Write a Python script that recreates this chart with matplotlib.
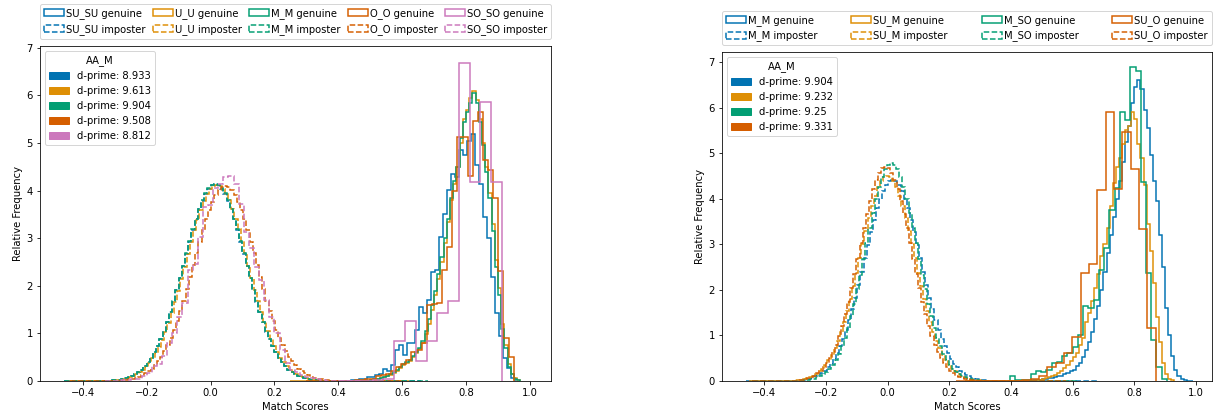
import matplotlib
matplotlib.use("Agg")
import matplotlib.pyplot as plt
import matplotlib.patches as mpatches
import numpy as np

colors = ['#0173b2', '#de8f05', '#029e73', '#d55e00', '#cc78bc']

# ---------------- left panel ----------------
left_names = ['SU_SU', 'U_U', 'M_M', 'O_O', 'SO_SO']
left_dprime = ['8.933', '9.613', '9.904', '9.508', '8.812']

# genuine histograms (density)
su_su_gen = [0.03, 0.03, 0.05, 0.05, 0.08, 0.08, 0.12, 0.15, 0.25, 0.2,
             0.34, 0.65, 0.76, 0.55, 0.79, 0.80, 1.07, 1.56, 1.42, 1.70,
             2.30, 2.33, 3.03, 3.52, 4.01, 4.36, 4.28, 4.85, 4.75, 5.05,
             5.2, 4.54, 4.15, 3.45, 3.0, 2.19, 1.42, 0.95, 0.48, 0.27, 0.07]
u_u_gen = [0.02, 0.03, 0.04, 0.06, 0.08, 0.10, 0.13, 0.16, 0.21, 0.27,
           0.33, 0.38, 0.42, 0.50, 0.58, 0.68, 0.80, 0.98, 1.2, 1.5,
           1.8, 2.15, 2.5, 2.9, 3.35, 3.8, 4.15, 4.5, 5.0, 5.5,
           5.7, 5.95, 6.1, 5.9, 5.5, 5.0, 4.5, 3.95, 3.3, 2.55,
           1.95, 1.2, 0.75, 0.35, 0.15, 0.06, 0.02]
m_m_gen = [0.03, 0.04, 0.05, 0.07, 0.09, 0.11, 0.14, 0.18, 0.23, 0.29,
           0.35, 0.40, 0.45, 0.52, 0.60, 0.70, 0.85, 1.05, 1.3, 1.6,
           1.9, 2.25, 2.6, 3.0, 3.4, 3.85, 4.2, 4.5, 5.1, 5.45,
           5.65, 5.85, 6.05, 5.85, 5.45, 4.95, 4.4, 3.85, 3.15, 2.4,
           1.8, 1.1, 0.7, 0.3, 0.14, 0.05, 0.02]
o_o_gen = [0.02, 0.02, 0.04, 0.05, 0.1, 0.12, 0.15, 0.2, 0.3, 0.35,
           0.45, 0.6, 0.65, 0.8, 1.6, 1.62, 1.64, 2.33, 2.82, 4.0,
           5.13, 5.13, 4.31, 5.47, 5.66, 4.64, 4.43, 3.84, 2.31, 0.9, 0.51]
so_so_gen = [0.02, 0.05, 0.85, 1.26, 0.41, 0.85, 1.42, 1.69, 6.69, 4.19, 5.87, 4.19]

# imposter histograms (density)
su_su_imp = [0.01, 0.01, 0.01, 0.02, 0.02, 0.03, 0.05, 0.06, 0.08, 0.11,
             0.14, 0.19, 0.24, 0.31, 0.39, 0.48, 0.60, 0.73, 0.88, 1.04,
             1.23, 1.44, 1.67, 1.91, 2.16, 2.41, 2.67, 2.93, 3.18, 3.40,
             3.61, 3.79, 3.94, 4.04, 4.11, 4.13, 4.11, 4.04, 3.94, 3.79,
             3.61, 3.40, 3.18, 2.93, 2.67, 2.41, 2.16, 1.91, 1.67, 1.44,
             1.23, 1.04, 0.88, 0.73, 0.60, 0.48, 0.39, 0.31, 0.24, 0.19,
             0.14, 0.11, 0.08, 0.06, 0.05, 0.03, 0.02, 0.02, 0.01, 0.01, 0.01]
u_u_imp = [0.01, 0.01, 0.01, 0.02, 0.02, 0.03, 0.04, 0.06, 0.08, 0.10,
           0.14, 0.18, 0.24, 0.30, 0.38, 0.48, 0.59, 0.72, 0.87, 1.03,
           1.22, 1.43, 1.66, 1.90, 2.15, 2.40, 2.66, 2.92, 3.17, 3.39,
           3.60, 3.78, 3.93, 4.03, 4.09, 4.11, 4.10, 4.04, 3.94, 3.80,
           3.62, 3.41, 3.19, 2.94, 2.68, 2.42, 2.17, 1.92, 1.68, 1.45,
           1.24, 1.05, 0.88, 0.73, 0.60, 0.49, 0.39, 0.31, 0.24, 0.19,
           0.15, 0.11, 0.08, 0.06, 0.05, 0.03, 0.02, 0.02, 0.01, 0.01, 0.01]
m_m_imp = [0.01, 0.01, 0.01, 0.02, 0.02, 0.03, 0.05, 0.06, 0.08, 0.11,
           0.15, 0.19, 0.24, 0.31, 0.39, 0.49, 0.60, 0.73, 0.88, 1.05,
           1.24, 1.45, 1.68, 1.92, 2.17, 2.42, 2.68, 2.94, 3.19, 3.41,
           3.62, 3.80, 3.95, 4.05, 4.12, 4.14, 4.12, 4.05, 3.95, 3.80,
           3.62, 3.41, 3.19, 2.94, 2.68, 2.42, 2.17, 1.92, 1.68, 1.45,
           1.24, 1.05, 0.88, 0.73, 0.60, 0.49, 0.39, 0.31, 0.24, 0.19,
           0.15, 0.11, 0.08, 0.06, 0.05, 0.03, 0.02, 0.02, 0.01, 0.01, 0.01]
o_o_imp = [0.01, 0.01, 0.01, 0.02, 0.03, 0.04, 0.05, 0.07, 0.09, 0.12,
           0.16, 0.20, 0.26, 0.33, 0.41, 0.50, 0.62, 0.75, 0.90, 1.07,
           1.26, 1.47, 1.69, 1.93, 2.18, 2.43, 2.68, 2.93, 3.17, 3.40,
           3.60, 3.77, 3.91, 4.02, 4.08, 4.10, 4.08, 4.02, 3.91, 3.77,
           3.60, 3.40, 3.17, 2.93, 2.68, 2.43, 2.18, 1.93, 1.69, 1.47,
           1.26, 1.07, 0.90, 0.75, 0.62, 0.50, 0.41, 0.33, 0.26, 0.20,
           0.16, 0.12, 0.09, 0.07, 0.05, 0.04, 0.03, 0.02, 0.01, 0.01, 0.01]
so_so_imp = [0.02, 0.03, 0.05, 0.05, 0.10, 0.17, 0.31, 0.36, 0.52, 0.80,
             1.00, 1.35, 1.64, 2.33, 2.45, 3.03, 3.66, 3.70, 4.05, 4.15,
             4.28, 4.30, 4.15, 3.73, 3.14, 2.79, 2.40, 2.12, 1.70, 1.35,
             1.00, 0.66, 0.38, 0.24, 0.18, 0.12, 0.09, 0.06, 0.04, 0.02, 0.01]

# (heights, first edge, bin width, lowest score, highest score)
left_gen = [(su_su_gen, 0.44, 0.0125, 0.40, None),
            (u_u_gen, 0.50, 0.01, 0.25, None),
            (m_m_gen, 0.50, 0.01, 0.45, None),
            (o_o_gen, 0.453, 0.016, 0.30, None),
            (so_so_gen, 0.5072, 0.0338, 0.40, None)]
left_imp = [(su_su_imp, -0.34, 0.01, -0.46, 0.66),
            (u_u_imp, -0.335, 0.01, -0.45, 0.62),
            (m_m_imp, -0.34, 0.01, -0.46, 0.68),
            (o_o_imp, -0.308, 0.01, -0.44, 0.60),
            (so_so_imp, -0.28, 0.016, -0.33, 0.47)]

# ---------------- right panel ----------------
right_names = ['M_M', 'SU_M', 'M_SO', 'SU_O']
right_dprime = ['9.904', '9.232', '9.25', '9.331']

m_m_gen_r = [0.01, 0.01, 0.02, 0.02, 0.03, 0.04, 0.05, 0.06, 0.07, 0.09,
             0.10, 0.12, 0.15, 0.18, 0.21, 0.25, 0.32, 0.40, 0.52, 0.67,
             0.85, 1.08, 1.35, 1.65, 2.0, 2.4, 2.8, 3.2, 3.6, 4.0,
             4.4, 4.8, 5.25, 5.6, 6.1, 6.45, 6.6, 6.4, 5.95, 5.55,
             4.95, 4.4, 3.95, 3.2, 2.5, 1.6, 1.0, 0.55, 0.25, 0.12,
             0.05, 0.02, 0.01, 0.005]
su_m_gen_r = [0.02, 0.03, 0.05, 0.06, 0.08, 0.11, 0.14, 0.18, 0.23, 0.28,
              0.35, 0.43, 0.52, 0.62, 0.78, 0.95, 1.3, 1.5, 1.75, 2.05,
              2.35, 2.75, 3.0, 3.35, 3.85, 4.35, 4.7, 4.9, 5.2, 5.5,
              5.6, 5.9, 5.75, 5.2, 4.9, 4.3, 3.45, 2.85, 2.15, 1.4,
              0.85, 0.4, 0.15, 0.05, 0.02]
m_so_gen_r = [0.1, 0.02, 0.02, 0.03, 0.15, 0.22, 0.2, 0.25, 0.40, 0.42,
              0.55, 0.62, 0.75, 1.0, 1.65, 1.6, 1.78, 2.44, 2.92, 3.75,
              4.23, 5.9, 5.73, 6.88, 6.80, 4.37, 2.36, 0.90, 0.31, 0.05]
su_o_gen_r = [0, 0, 0, 0, 0, 0, 0, 0.01, 0.03, 0.05,
              0.12, 0.30, 0.40, 0.62, 0.97, 2.36, 2.57, 4.19, 5.9, 4.21,
              5.47, 4.65, 3.33, 1.17]

m_m_imp_r = [0.01, 0.01, 0.02, 0.03, 0.04, 0.05, 0.07, 0.10, 0.13, 0.18,
             0.23, 0.30, 0.38, 0.49, 0.61, 0.76, 0.92, 1.12, 1.33, 1.57,
             1.83, 2.11, 2.40, 2.69, 2.98, 3.27, 3.54, 3.79, 4.00, 4.17,
             4.30, 4.38, 4.41, 4.38, 4.30, 4.17, 4.00, 3.79, 3.54, 3.27,
             2.98, 2.69, 2.40, 2.11, 1.83, 1.57, 1.33, 1.12, 0.92, 0.76,
             0.61, 0.49, 0.38, 0.30, 0.23, 0.18, 0.13, 0.10, 0.07, 0.05,
             0.04, 0.03, 0.02, 0.01, 0.01]
su_m_imp_r = [0.01, 0.01, 0.02, 0.02, 0.03, 0.04, 0.06, 0.09, 0.12, 0.16,
              0.21, 0.27, 0.35, 0.45, 0.57, 0.72, 0.88, 1.08, 1.30, 1.54,
              1.80, 2.09, 2.38, 2.69, 3.00, 3.30, 3.58, 3.84, 4.07, 4.25,
              4.39, 4.47, 4.50, 4.47, 4.39, 4.25, 4.07, 3.84, 3.58, 3.30,
              3.00, 2.69, 2.38, 2.09, 1.80, 1.54, 1.30, 1.08, 0.88, 0.72,
              0.57, 0.45, 0.35, 0.27, 0.21, 0.16, 0.12, 0.09, 0.06, 0.04,
              0.03, 0.02, 0.02, 0.01, 0.01]
m_so_imp_r = [0.01, 0.01, 0.01, 0.02, 0.03, 0.04, 0.05, 0.08, 0.11, 0.15,
              0.20, 0.27, 0.36, 0.47, 0.60, 0.76, 0.95, 1.17, 1.42, 1.70,
              2.01, 2.33, 2.67, 3.02, 3.36, 3.69, 4.00, 4.26, 4.48, 4.65,
              4.75, 4.78, 4.75, 4.65, 4.48, 4.26, 4.00, 3.69, 3.36, 3.02,
              2.67, 2.33, 2.01, 1.70, 1.42, 1.17, 0.95, 0.76, 0.60, 0.47,
              0.36, 0.27, 0.20, 0.15, 0.11, 0.08, 0.05, 0.04, 0.03, 0.02,
              0.01, 0.01, 0.01]
su_o_imp_r = [0.01, 0.01, 0.01, 0.02, 0.03, 0.04, 0.06, 0.09, 0.12, 0.17,
              0.22, 0.30, 0.39, 0.50, 0.64, 0.80, 0.99, 1.21, 1.46, 1.74,
              2.03, 2.35, 2.68, 3.02, 3.35, 3.66, 3.95, 4.21, 4.42, 4.57,
              4.67, 4.70, 4.67, 4.57, 4.42, 4.21, 3.95, 3.66, 3.35, 3.02,
              2.68, 2.35, 2.03, 1.74, 1.46, 1.21, 0.99, 0.80, 0.64, 0.50,
              0.39, 0.30, 0.22, 0.17, 0.12, 0.09, 0.06, 0.04, 0.03, 0.02,
              0.01, 0.01, 0.01]

right_gen = [(m_m_gen_r, 0.45, 0.01, 0.30, 0.99),
             (su_m_gen_r, 0.48, 0.01, 0.25, None),
             (m_so_gen_r, 0.396, 0.017, None, None),
             (su_o_gen_r, 0.221, 0.027, None, None)]
right_imp = [(m_m_imp_r, -0.308, 0.01, -0.46, 0.68),
             (su_m_imp_r, -0.325, 0.01, -0.45, 0.60),
             (m_so_imp_r, -0.302, 0.01, -0.44, 0.62),
             (su_o_imp_r, -0.321, 0.01, -0.44, 0.58)]


def draw_hist(ax, spec, color, ls, label):
    heights, start, width, lo, hi = spec
    edges = start + width * np.arange(len(heights) + 1)
    h = list(heights)
    if lo is not None:
        edges = np.r_[lo, edges]
        h = [0] + h
    if hi is not None:
        edges = np.r_[edges, hi]
        h = h + [0]
    ax.hist(edges[:-1], bins=edges, weights=h, histtype='step',
            color=color, linestyle=ls, linewidth=1.5, label=label)


def panel(ax, names, gens, imps, dprimes, ncol):
    for i, name in enumerate(names):
        draw_hist(ax, gens[i], colors[i], '-', f'{name} genuine')
        draw_hist(ax, imps[i], colors[i], '--', f'{name} imposter')
    top = ax.legend(loc='lower left', bbox_to_anchor=(0, 1.02, 1, 0.102),
                    mode='expand', ncol=ncol, handletextpad=0.2,
                    borderaxespad=0)
    ax.add_artist(top)
    # d-prime legend
    patches = [mpatches.Patch(color=colors[i], label=f'd-prime: {d}')
               for i, d in enumerate(dprimes)]
    ax.legend(handles=patches, title='AA_M', loc='upper left')
    ax.set_xlabel('Match Scores')
    ax.set_ylabel('Relative Frequency')
    ax.set_xticks([-0.4, -0.2, 0.0, 0.2, 0.4, 0.6, 0.8, 1.0])


fig = plt.figure(figsize=(1215 / 72, 418 / 72), dpi=72)
ax1 = fig.add_axes([40 / 1215, 37 / 418, 511 / 1215, 335 / 418])
ax2 = fig.add_axes([722 / 1215, 37 / 418, 490 / 1215, 329 / 418])

panel(ax1, left_names, left_gen, left_imp, left_dprime, 5)
ax1.set_xlim(-0.534, 1.066)
ax1.set_ylim(0, 7.04)

panel(ax2, right_names, right_gen, right_imp, right_dprime, 4)
ax2.set_xlim(-0.537, 1.052)
ax2.set_ylim(0, 7.22)

fig.savefig('out.png', dpi=72)
